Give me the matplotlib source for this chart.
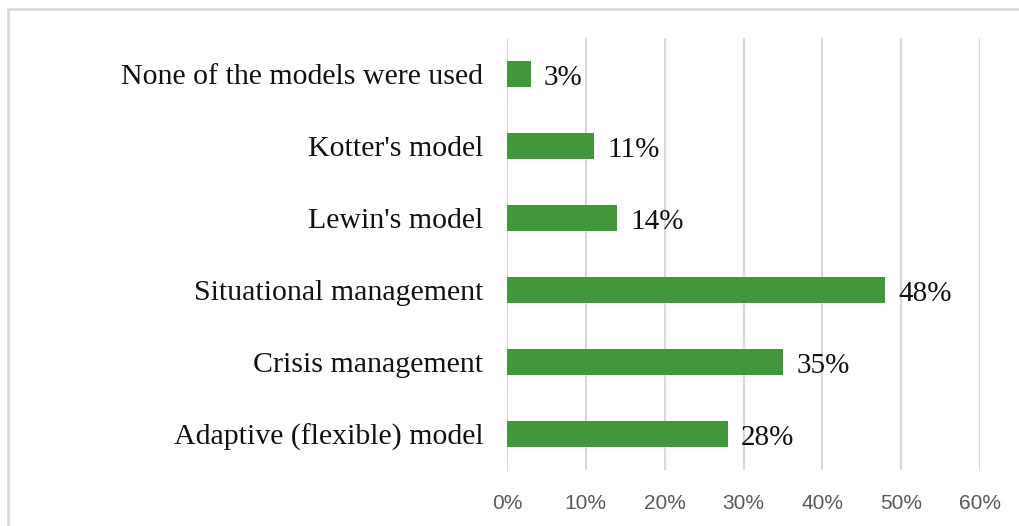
import matplotlib.pyplot as plt
from matplotlib.patches import Rectangle

# survey results, bottom to top
models = ["Adaptive (flexible) model", "Crisis management", "Situational management",
          "Lewin's model", "Kotter's model", "None of the models were used"]
shares = [28, 35, 48, 14, 11, 3]
ticks = [0, 10, 20, 30, 40, 50, 60]

fig = plt.figure(figsize=(10.19, 5.26), dpi=100)
ax = fig.add_axes([507 / 1019, 1 - 470 / 526, (980 - 507) / 1019, 432 / 526])

# light frame around the chart area
fig.patches.append(Rectangle((8 / 1019, -0.1), 1.2, 1 - 9 / 526 + 0.1,
                             transform=fig.transFigure, fill=False,
                             edgecolor="#d9d9d9", linewidth=2))

y = range(len(models))
ax.barh(y, shares, height=0.35, color="#43973a", zorder=3)
for yi, v in zip(y, shares):
    ax.text(v + 1.7, yi - 0.05, f"{v}%", va="center", ha="left",
            fontsize=21, family="Liberation Serif", color="#111111")

ax.set_xlim(0, 60)
ax.set_ylim(-0.5, len(models) - 0.5)
ax.set_xticks(ticks)
ax.set_xticklabels([f"{t}%" for t in ticks], family="Liberation Sans",
                   fontsize=15, color="#595959")
ax.set_yticks(list(y))
ax.set_yticklabels(models, family="Liberation Serif", fontsize=21.5, color="#111111")
ax.tick_params(axis="both", length=0)
ax.tick_params(axis="x", pad=17)
ax.tick_params(axis="y", pad=17)
ax.grid(axis="x", color="#d9d9d9", linewidth=1.5, zorder=0)
for s in ax.spines.values():
    s.set_visible(False)

fig.savefig("out.png", dpi=100)
